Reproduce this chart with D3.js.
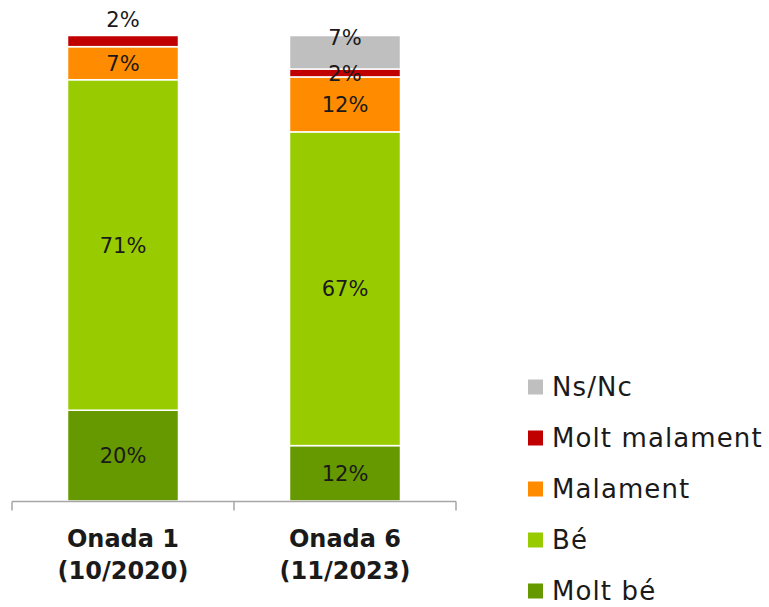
<!DOCTYPE html>
<html>
<head>
<meta charset="utf-8">
<script src="https://cdn.jsdelivr.net/npm/d3@7"></script>
<style>
  body { margin: 0; background: #fff; }
  svg { display: block; font-family: "DejaVu Sans", sans-serif; }
</style>
</head>
<body>
<svg width="769" height="607"></svg>
<script>
// categories (two lines each)
const categories = ["Onada 1\n(10/2020)", "Onada 6\n(11/2023)"];
// series from bottom to top of each bar
const seriesNames = ["Molt bé", "Bé", "Malament", "Molt malament", "Ns/Nc"];
const seriesColors = ["#669900", "#99cc00", "#ff8c00", "#c00000", "#bfbfbf"];
// values per series, one per category (%)
const moltBe = [19.5, 11.9];
const be = [71.0, 67.4];
const malament = [7.1, 11.8];
const moltMalament = [2.4, 1.7];
const nsNc = [0, 7.2];

const values = [moltBe, be, malament, moltMalament, nsNc];

const svg = d3.select("svg");

const x = d3.scaleBand()
  .domain(categories)
  .range([12, 456])
  .paddingInner(0.5)
  .paddingOuter(0.25);

const y = d3.scaleLinear().domain([0, 100]).range([501, 35.5]);

// build stack rows
const rows = categories.map((c, i) => {
  const r = { cat: c };
  seriesNames.forEach((s, j) => { r[s] = values[j][i]; });
  return r;
});
const stacked = d3.stack().keys(seriesNames)(rows);

// label nudges for small segments moved off-centre
function labelNudge(series, catIndex, d) {
  if (series === "Molt malament" && catIndex === 0) return y(d[1]) - 16 - (y(d[0]) + y(d[1])) / 2;
  if (series === "Ns/Nc") return -15;
  return 0;
}

const layers = svg.append("g")
  .selectAll("g")
  .data(stacked)
  .join("g")
  .attr("fill", (d, i) => seriesColors[i]);

layers.selectAll("rect")
  .data(d => d.map((p, i) => ({ p: p, i: i })))
  .join("rect")
  .filter(d => d.p[1] - d.p[0] > 0)
  .attr("x", d => x(d.p.data.cat))
  .attr("width", x.bandwidth())
  .attr("y", d => y(d.p[1]))
  .attr("height", d => y(d.p[0]) - y(d.p[1]))
  .attr("stroke", "#fff")
  .attr("stroke-width", 1.5);

// data labels
stacked.forEach((layer) => {
  layer.forEach((p, i) => {
    const v = p[1] - p[0];
    if (v <= 0) return;
    const cy = (y(p[0]) + y(p[1])) / 2 + labelNudge(layer.key, i, p);
    svg.append("text")
      .attr("x", x(p.data.cat) + x.bandwidth() / 2)
      .attr("y", cy)
      .attr("dy", "0.36em")
      .attr("text-anchor", "middle")
      .attr("font-size", 21)
      .attr("fill", "#1a1a1a")
      .text(Math.round(v) + "%");
  });
});

// category axis with ticks at band boundaries
const axisY = y(0) + 0.5;
const bounds = [12].concat(categories.map(c => x(c) - x.step() * x.paddingOuter() + x.step()));
svg.append("line")
  .attr("x1", bounds[0]).attr("x2", bounds[bounds.length - 1])
  .attr("y1", axisY).attr("y2", axisY)
  .attr("stroke", "#a6a6a6").attr("stroke-width", 1.5);
svg.selectAll(".tick")
  .data(bounds)
  .join("line")
  .attr("class", "tick")
  .attr("x1", d => d).attr("x2", d => d)
  .attr("y1", axisY).attr("y2", axisY + 9)
  .attr("stroke", "#a6a6a6").attr("stroke-width", 1.5);

categories.forEach(c => {
  const t = svg.append("text")
    .attr("text-anchor", "middle")
    .attr("font-size", 24)
    .attr("font-weight", "bold")
    .attr("fill", "#1a1a1a");
  c.split("\n").forEach((line, k) => {
    t.append("tspan")
      .attr("x", x(c) + x.bandwidth() / 2)
      .attr("y", 538 + k * 32)
      .attr("dy", "0.36em")
      .text(line);
  });
});

// legend, top to bottom in reverse stack order
const legend = svg.append("g")
  .selectAll("g")
  .data(seriesNames.map((s, i) => ({ s: s, c: seriesColors[i] })).reverse())
  .join("g")
  .attr("transform", (d, i) => `translate(528, ${387 + i * 51})`);

legend.append("rect")
  .attr("x", 0).attr("y", -7.5)
  .attr("width", 15).attr("height", 15)
  .attr("fill", d => d.c);

legend.append("text")
  .attr("x", 24)
  .attr("dy", "0.36em")
  .attr("font-size", 26)
  .attr("letter-spacing", 1.1)
  .attr("fill", "#1a1a1a")
  .text(d => d.s);
</script>
</body>
</html>
